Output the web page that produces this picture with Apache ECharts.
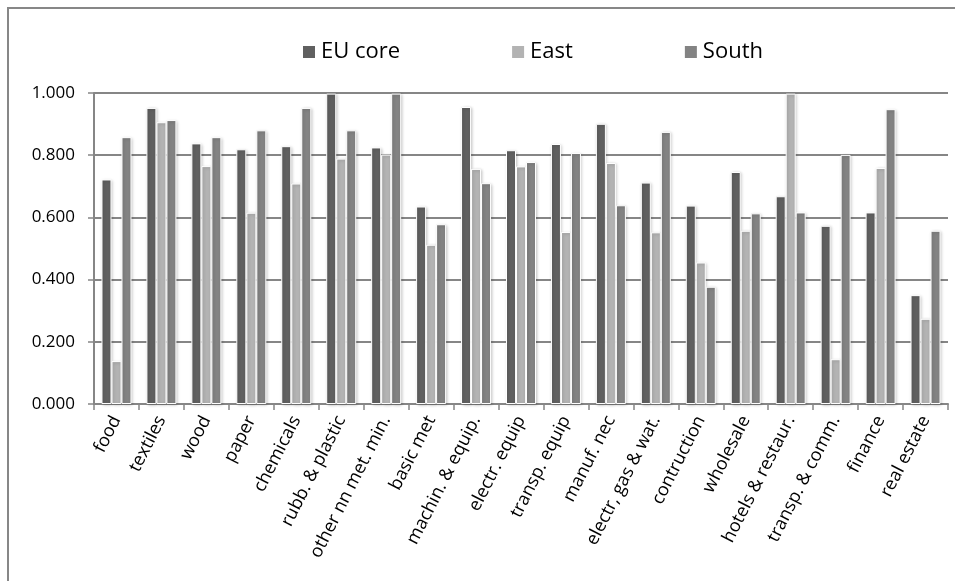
<!DOCTYPE html>
<html>
<head>
<meta charset="utf-8">
<script src="https://cdn.jsdelivr.net/npm/echarts@6/dist/echarts.min.js"></script>
<style>html,body{margin:0;padding:0;background:#fff}#c{width:955px;height:581px}</style>
</head>
<body>
<div id="c"></div>
<script>
const categories = ["food","textiles","wood","paper","chemicals","rubb. & plastic","other nn met. min.","basic met","machin. & equip.","electr. equip","transp. equip","manuf. nec","electr, gas & wat.","contruction","wholesale","hotels & restaur.","transp. & comm.","finance","real estate"];
const euCore = [0.722,0.952,0.838,0.819,0.829,0.998,0.825,0.635,0.955,0.816,0.836,0.901,0.712,0.638,0.746,0.668,0.573,0.616,0.350];
const east   = [0.138,0.906,0.765,0.615,0.709,0.789,0.802,0.512,0.756,0.764,0.553,0.775,0.552,0.455,0.557,0.998,0.144,0.759,0.274];
const south  = [0.858,0.913,0.858,0.880,0.952,0.880,0.998,0.578,0.710,0.778,0.807,0.639,0.875,0.377,0.613,0.616,0.801,0.948,0.557];
const yTicks = [0, 0.2, 0.4, 0.6, 0.8, 1.0];

const font = "'Open Sans', 'Liberation Sans', sans-serif";
const chart = echarts.init(document.getElementById('c'), null, {renderer: 'canvas'});
function bar(name, data, color) {
  return {
    name, type: 'bar', data, barWidth: 10, barGap: '0%',
    itemStyle: {color, borderColor: '#ffffff', borderWidth: 1,
      shadowColor: 'rgba(0,0,0,0.22)', shadowBlur: 3, shadowOffsetX: 1, shadowOffsetY: 1},
    emphasis: {disabled: true}
  };
}
chart.setOption({
  animation: false,
  backgroundColor: '#ffffff',
  graphic: [{type: 'rect', shape: {x: 8, y: 8, width: 1200, height: 1200},
    style: {fill: 'none', stroke: '#878787', lineWidth: 2}, silent: true, z: -1}],
  legend: {
    top: 36, left: 296, itemWidth: 14, itemHeight: 14, itemGap: 110,
    icon: 'rect',
    textStyle: {fontFamily: font, fontSize: 22, color: '#000'},
    data: ['EU core', 'East', 'South']
  },
  grid: {left: 94, right: 7, top: 93, bottom: 177, containLabel: false},
  xAxis: {
    type: 'category', data: categories,
    axisLine: {lineStyle: {color: '#868686', width: 2}},
    axisTick: {show: true, length: 6, lineStyle: {color: '#868686', width: 1.5}},
    axisLabel: {rotate: 63, interval: 0, fontFamily: font, fontSize: 18, color: '#000', margin: 13}
  },
  yAxis: {
    type: 'value', min: 0, max: 1, interval: 0.2,
    axisLine: {show: true, lineStyle: {color: '#868686', width: 2}},
    axisTick: {show: true, length: 6, lineStyle: {color: '#868686', width: 1.5}},
    splitLine: {lineStyle: {color: '#868686', width: 2}},
    axisLabel: {fontFamily: font, fontSize: 17, color: '#000', margin: 19,
      formatter: v => v.toFixed(3)},
    customValues: yTicks
  },
  series: [bar('EU core', euCore, '#606060'), bar('East', east, '#b3b3b3'), bar('South', south, '#838383')]
});
</script>
</body>
</html>
